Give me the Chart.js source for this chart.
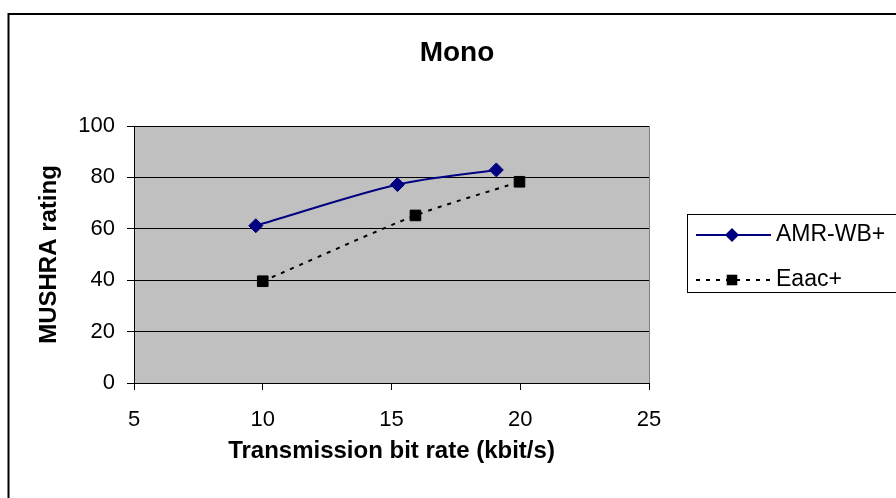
<!DOCTYPE html>
<html>
<head>
<meta charset="utf-8">
<script src="https://cdn.jsdelivr.net/npm/chart.js@4/dist/chart.umd.min.js"></script>
<style>
  html, body { margin: 0; padding: 0; background: #fff; }
  #wrap { width: 896px; height: 498px; }
</style>
</head>
<body>
<div id="wrap"><canvas id="c" width="896" height="498"></canvas></div>
<script>
const chartTitle = 'Mono';
const xTitle = 'Transmission bit rate (kbit/s)';
const yTitle = 'MUSHRA rating';
const seriesNames = ['AMR-WB+', 'Eaac+'];
const amrX = [9.73, 15.23, 19.07];
const amrY = [61.2, 77.2, 82.9];
const eaacX = [10.0, 15.93, 19.97];
const eaacY = [39.6, 65.2, 78.3];
const xTicks = [5, 10, 15, 20, 25];
const yTicks = [0, 20, 40, 60, 80, 100];

const FONT = "'Liberation Sans', Arial, sans-serif";

function pts(xs, ys) { return xs.map((x, i) => ({ x: x, y: ys[i] })); }

const decor = {
  id: 'decor',
  beforeDraw(chart) {
    const ctx = chart.ctx, a = chart.chartArea;
    ctx.save();
    ctx.fillStyle = '#fff';
    ctx.fillRect(0, 0, chart.width, chart.height);
    ctx.strokeStyle = '#000';
    ctx.lineWidth = 2;
    ctx.strokeRect(8.5, 14, 1000, 1000);
    ctx.fillStyle = '#C0C0C0';
    ctx.fillRect(a.left, a.top, a.right - a.left, a.bottom - a.top);
    ctx.strokeStyle = '#808080';
    ctx.lineWidth = 1;
    ctx.beginPath();
    ctx.moveTo(Math.round(a.right) + 0.5, a.top);
    ctx.lineTo(Math.round(a.right) + 0.5, a.bottom);
    ctx.stroke();
    ctx.restore();
  },
  afterDraw(chart) {
    const ctx = chart.ctx;
    ctx.save();
    ctx.fillStyle = '#000';
    ctx.font = 'bold 28px ' + FONT;
    ctx.textAlign = 'center';
    ctx.textBaseline = 'middle';
    ctx.fillText(chartTitle, 457, 53);
    ctx.strokeStyle = '#000';
    ctx.lineWidth = 1;
    ctx.strokeRect(687.5, 214.5, 400, 78);
    const rows = [235, 280];
    chart.data.datasets.forEach((ds, i) => {
      const y = rows[i];
      ctx.save();
      ctx.strokeStyle = ds.borderColor;
      ctx.lineWidth = ds.borderWidth;
      ctx.setLineDash(ds.borderDash || []);
      ctx.beginPath();
      ctx.moveTo(696, y);
      ctx.lineTo(771, y);
      ctx.stroke();
      ctx.restore();
      const cx = 732, r = ds.pointRadius;
      ctx.fillStyle = ds.pointBackgroundColor;
      ctx.beginPath();
      if (ds.pointStyle === 'rectRot') {
        ctx.moveTo(cx, y - r); ctx.lineTo(cx + r, y); ctx.lineTo(cx, y + r); ctx.lineTo(cx - r, y);
      } else {
        const s = r * Math.SQRT1_2;
        ctx.rect(cx - s, y - s, 2 * s, 2 * s);
      }
      ctx.closePath();
      ctx.fill();
      ctx.fillStyle = '#000';
      ctx.font = '23px ' + FONT;
      ctx.textAlign = 'left';
      ctx.textBaseline = 'middle';
      ctx.fillText(ds.label, 776, y);
    });
    ctx.restore();
  }
};

new Chart(document.getElementById('c'), {
  type: 'line',
  data: {
    datasets: [
      {
        label: seriesNames[0],
        data: pts(amrX, amrY),
        borderColor: '#000080',
        backgroundColor: '#000080',
        borderWidth: 2,
        pointStyle: 'rectRot',
        pointRadius: 7,
        pointBackgroundColor: '#000080',
        pointBorderColor: '#000080',
        pointBorderWidth: 1,
        tension: 0.3,
        fill: false
      },
      {
        label: seriesNames[1],
        data: pts(eaacX, eaacY),
        borderColor: '#000',
        backgroundColor: '#000',
        borderWidth: 2,
        borderDash: [4, 6],
        pointStyle: 'rect',
        pointRadius: 7.5,
        pointBackgroundColor: '#000',
        pointBorderColor: '#000',
        pointBorderWidth: 1,
        tension: 0.25,
        fill: false
      }
    ]
  },
  options: {
    responsive: false,
    animation: false,
    devicePixelRatio: 1,
    layout: { padding: { left: 0, top: 126, right: 247, bottom: 0 } },
    plugins: {
      legend: { display: false },
      title: { display: false },
      tooltip: { enabled: false }
    },
    scales: {
      x: {
        type: 'linear',
        min: 5, max: 25,
        afterBuildTicks(s) { s.ticks = xTicks.map(v => ({ value: v })); },
        afterFit(s) { s.height = 115; },
        ticks: { color: '#000', font: { family: FONT, size: 22 }, padding: 17, maxRotation: 0 },
        grid: { drawOnChartArea: false, drawTicks: true, tickLength: 7, color: '#000' },
        border: { display: true, color: '#000', width: 1 },
        title: {
          display: true, text: xTitle, color: '#000',
          font: { family: FONT, size: 24, weight: 'bold' },
          padding: { top: 0, bottom: 32 }
        }
      },
      y: {
        type: 'linear',
        min: 0, max: 100,
        afterBuildTicks(s) { s.ticks = yTicks.map(v => ({ value: v })); },
        afterFit(s) { s.width = 134; },
        ticks: { color: '#000', font: { family: FONT, size: 22 }, padding: 12 },
        grid: { drawOnChartArea: true, drawTicks: true, tickLength: 7, color: '#000' },
        border: { display: true, color: '#000', width: 1 },
        title: {
          display: true, text: yTitle, color: '#000',
          font: { family: FONT, size: 24, weight: 'bold' },
          padding: { top: 34.6, bottom: 0 }
        }
      }
    }
  },
  plugins: [decor]
});
</script>
</body>
</html>
